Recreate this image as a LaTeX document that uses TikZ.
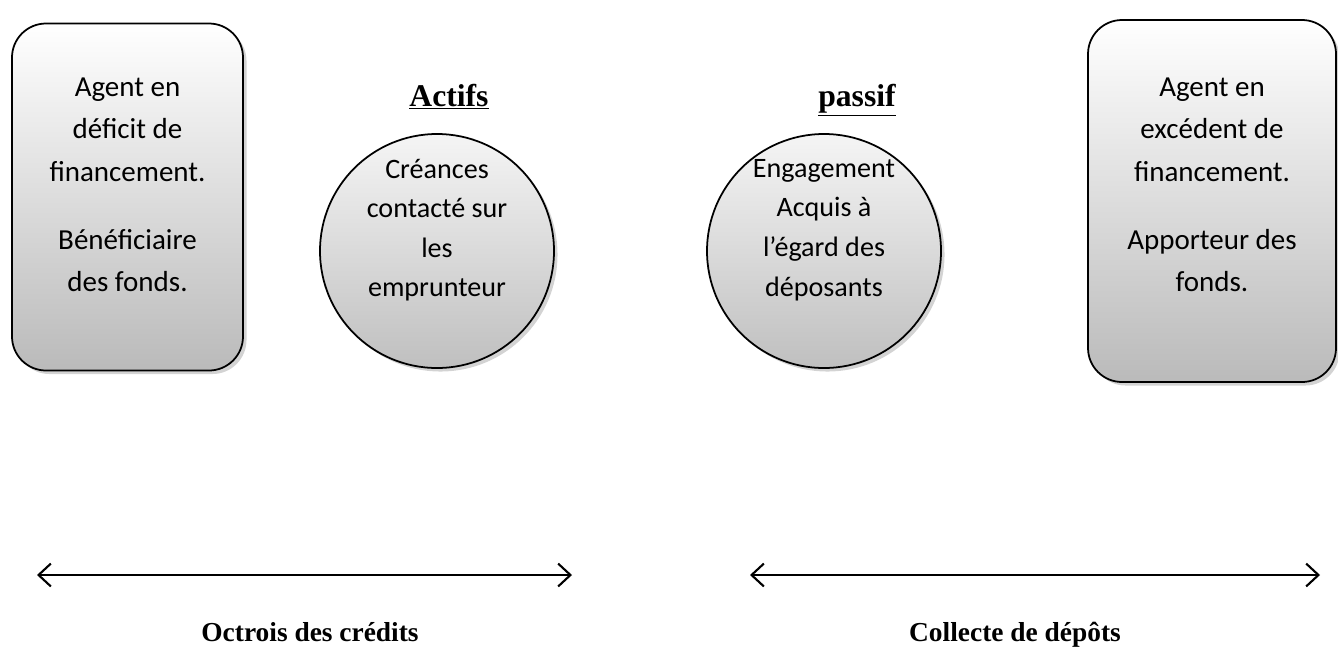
\documentclass[tikz,border=0pt]{standalone}
\usepackage{fontspec}
\setmainfont{Carlito}
\newfontfamily\titlefont{Liberation Serif}
\usetikzlibrary{arrows.meta,shadows}

\tikzset{
 agentbox/.style={draw=black,line width=1pt,rounded corners=34*0.02cm,top color=white,bottom color=black!27,
  drop shadow={opacity=0.35,shadow xshift=2pt,shadow yshift=-2pt}},
 bubble/.style={draw=black,line width=1pt,circle,minimum size=234*0.02cm,inner sep=0pt,top color=black!4,bottom color=black!25,
  drop shadow={opacity=0.35,shadow xshift=2pt,shadow yshift=-2pt}},
 boxtext/.style={align=center,font=\fontsize{16.5}{24}\selectfont},
 bubbletext/.style={align=center,font=\fontsize{16}{22.5}\selectfont},
 headtext/.style={anchor=base,font=\titlefont\bfseries\fontsize{18}{20}\selectfont},
 foottext/.style={anchor=base,font=\titlefont\bfseries\fontsize{15.6}{20}\selectfont},
 flow/.style={line width=1.2pt,{Straight Barb[length=7pt,width=13pt,line width=1.2pt]}-{Straight Barb[length=7pt,width=13pt,line width=1.2pt]}}
}

\begin{document}
\begin{tikzpicture}[x=0.02cm,y=-0.02cm]
 \useasboundingbox (0,0) rectangle (1338,660);
 % agents
 \node[agentbox,minimum width=231*0.02cm,minimum height=347*0.02cm] (deficit) at (127.5,197) {};
 \node[agentbox,minimum width=248*0.02cm,minimum height=362*0.02cm] (excedent) at (1212,201) {};
 \node[boxtext] (tdeficit) at (127.5,185) {Agent en\\d\'eficit de\\financement.\\[15pt]B\'en\'eficiaire\\des fonds.};
 \node[boxtext] (texcedent) at (1212,185) {Agent en\\exc\'edent de\\financement.\\[15pt]Apporteur des\\fonds.};
 % bilan de la banque
 \node[bubble] (actif) at (437,251) {};
 \node[bubble] (passif) at (824,251) {};
 \node[bubbletext] (tactif) at (437,230) {Cr\'eances\\contact\'e sur\\les\\emprunteur};
 \node[bubbletext] (tpassif) at (824,230) {Engagement\\Acquis \`a\\l’\'egard des\\d\'eposants};
 \node[headtext] (hactif) at (449,106) {\underline{Actifs}};
 \node[headtext] (hpassif) at (857,106) {\underline{passif}};
 % flux
 \coordinate (a1) at (37,575);
 \coordinate (a2) at (572,575);
 \coordinate (b1) at (750,575);
 \coordinate (b2) at (1320,575);
 \draw[flow] (a1) -- (a2);
 \draw[flow] (b1) -- (b2);
 \node[foottext] (credits) at (310,641) {Octrois des cr\'edits};
 \node[foottext] (depots) at (1015,641) {Collecte de d\'ep\^ots};
\end{tikzpicture}
\end{document}
